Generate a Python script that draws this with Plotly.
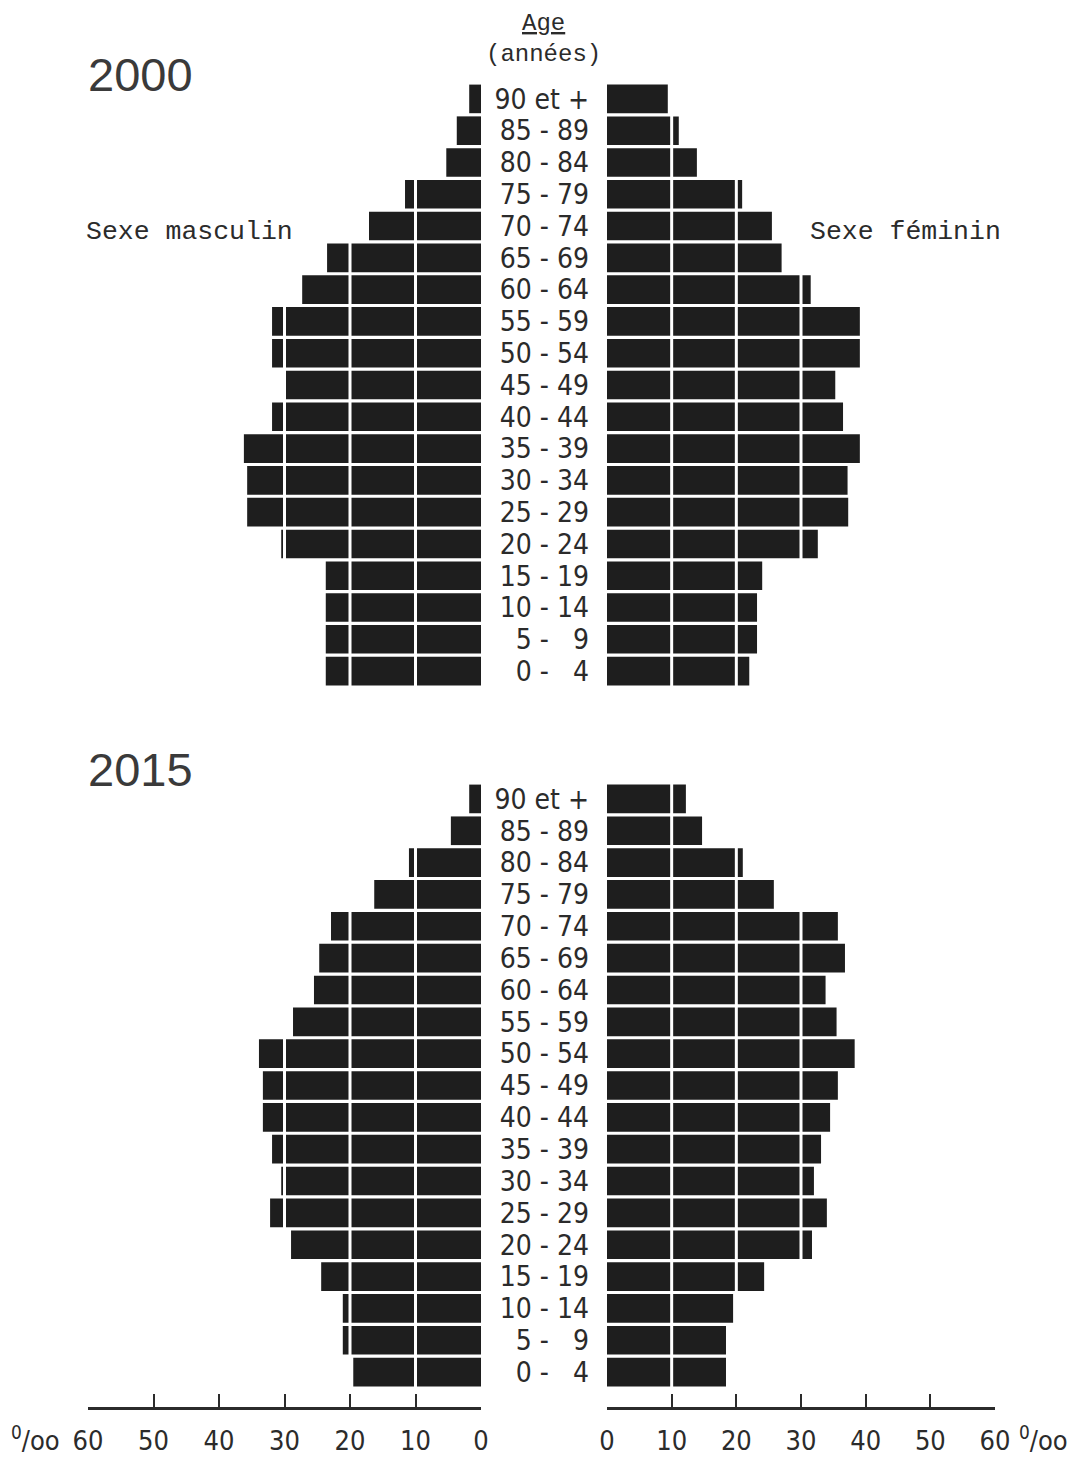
import plotly.graph_objects as go

# page offset of the plot div (default body margin) compensated below
OFF = 8
FW, FH = 1079 - 2 * OFF, 1465 - 2 * OFF

ages = ["0 - \u20074", "5 - \u20079", "10 - 14", "15 - 19", "20 - 24", "25 - 29",
        "30 - 34", "35 - 39", "40 - 44", "45 - 49", "50 - 54", "55 - 59",
        "60 - 64", "65 - 69", "70 - 74", "75 - 79", "80 - 84", "85 - 89", "90 et +"]

male_2000 = [23.7, 23.7, 23.7, 23.7, 30.5, 35.7, 35.7, 36.2, 31.9, 30.2,
             31.9, 31.9, 27.3, 23.5, 17.1, 11.6, 5.3, 3.7, 1.8]
female_2000 = [22.0, 23.2, 23.2, 24.0, 32.6, 37.3, 37.2, 39.1, 36.5, 35.3,
               39.1, 39.1, 31.5, 27.0, 25.5, 20.9, 13.9, 11.1, 9.4]
male_2015 = [19.5, 21.1, 21.1, 24.4, 29.0, 32.2, 30.5, 31.9, 33.3, 33.3,
             33.9, 28.7, 25.5, 24.7, 22.9, 16.3, 11.0, 4.6, 1.8]
female_2015 = [18.4, 18.4, 19.5, 24.3, 31.7, 34.0, 32.0, 33.1, 34.5, 35.7,
               38.3, 35.5, 33.8, 36.8, 35.7, 25.8, 21.0, 14.7, 12.2]

tick_vals = [0, 10, 20, 30, 40, 50, 60]
tick_text = ["0", "10", "20", "30", "40", "50", "60"]
grid_vals = [10, 20, 30]

BAR = "#1e1e1e"
TXT = "#2b2b2b"
NARROW = "Liberation Sans Narrow, DejaVu Sans Condensed, Arial Narrow, sans-serif"
MONO = "Courier New, Liberation Mono, monospace"


def px(p):
    return (p - OFF) / FW


def py(p):
    return 1 - (p - OFF) / FH


fig = go.Figure()
fig.add_trace(go.Bar(x=male_2000, y=ages, orientation="h", xaxis="x", yaxis="y",
                     marker=dict(color=BAR, line=dict(width=0)), showlegend=False))
fig.add_trace(go.Bar(x=female_2000, y=ages, orientation="h", xaxis="x2", yaxis="y",
                     marker=dict(color=BAR, line=dict(width=0)), showlegend=False))
fig.add_trace(go.Bar(x=male_2015, y=ages, orientation="h", xaxis="x3", yaxis="y2",
                     marker=dict(color=BAR, line=dict(width=0)), showlegend=False))
fig.add_trace(go.Bar(x=female_2015, y=ages, orientation="h", xaxis="x4", yaxis="y2",
                     marker=dict(color=BAR, line=dict(width=0)), showlegend=False))

male_dom = [px(88), px(481)]
fem_dom = [px(607), px(995)]

hidden_x = dict(showline=False, showgrid=False, zeroline=False, ticks="",
                showticklabels=False, automargin=False)
shown_x = dict(showline=True, linecolor=TXT, linewidth=2.5, showgrid=False,
               zeroline=False, ticks="inside", ticklen=13, tickwidth=2,
               tickcolor=TXT, tickmode="array", tickvals=tick_vals, ticktext=tick_text,
               tickfont=dict(family=NARROW, size=27, color=TXT),
               ticklabelstandoff=8, anchor="free", position=py(1408),
               automargin=False)

y_common = dict(type="category", categoryorder="array", categoryarray=ages,
                range=[-0.5, 18.5], showgrid=False, zeroline=False,
                showline=False, ticks="", ticklabelstandoff=17,
                tickmode="array", tickvals=ages, ticktext=ages,
                tickfont=dict(family=NARROW, size=28, color=TXT), side="left",
                automargin=False)

fig.update_layout(
    width=FW, height=FH,
    margin=dict(l=0, r=0, t=0, b=0, autoexpand=False),
    paper_bgcolor="white", plot_bgcolor="white",
    bargap=0.1,
    xaxis=dict(domain=male_dom, range=[60, 0], anchor="y", **hidden_x),
    xaxis2=dict(domain=fem_dom, range=[0, 60], anchor="y", **hidden_x),
    xaxis3=dict(domain=male_dom, range=[60, 0], **shown_x),
    xaxis4=dict(domain=fem_dom, range=[0, 60], **shown_x),
    yaxis=dict(domain=[py(687), py(83)], anchor="x2", **y_common),
    yaxis2=dict(domain=[py(1388), py(783)], anchor="x4", **y_common),
)

shapes = []
for xr, yr in [("x", "y domain"), ("x2", "y domain"), ("x3", "y2 domain"), ("x4", "y2 domain")]:
    for g in grid_vals:
        shapes.append(dict(type="line", xref=xr, yref=yr, x0=g, x1=g, y0=0, y1=1,
                           line=dict(color="white", width=3), layer="above"))
fig.update_layout(shapes=shapes)

ann = [
    dict(text="2000", x=px(86), y=py(75), xanchor="left", yanchor="middle",
         font=dict(family="Liberation Sans, Arial, sans-serif", size=47, color="#3a3a3a")),
    dict(text="2015", x=px(86), y=py(770), xanchor="left", yanchor="middle",
         font=dict(family="Liberation Sans, Arial, sans-serif", size=47, color="#3a3a3a")),
    dict(text="Sexe masculin", x=px(84), y=py(232), xanchor="left", yanchor="middle",
         font=dict(family=MONO, size=26.5, color=TXT)),
    dict(text="Sexe féminin", x=px(808), y=py(232), xanchor="left", yanchor="middle",
         font=dict(family=MONO, size=26.5, color=TXT)),
    dict(text="<u>Age</u><br>(années)", x=px(543), y=py(8), xanchor="center",
         yanchor="top", align="center",
         font=dict(family=MONO, size=24, color=TXT)),
    dict(text="<sup>0</sup>/oo", x=px(62), y=py(1438), xanchor="right", yanchor="middle",
         font=dict(family=NARROW, size=27, color=TXT)),
    dict(text="<sup>0</sup>/oo", x=px(1017), y=py(1438), xanchor="left", yanchor="middle",
         font=dict(family=NARROW, size=27, color=TXT)),
]
for a in ann:
    a.update(xref="paper", yref="paper", showarrow=False)
fig.update_layout(annotations=ann)

fig.write_html("out.html")
